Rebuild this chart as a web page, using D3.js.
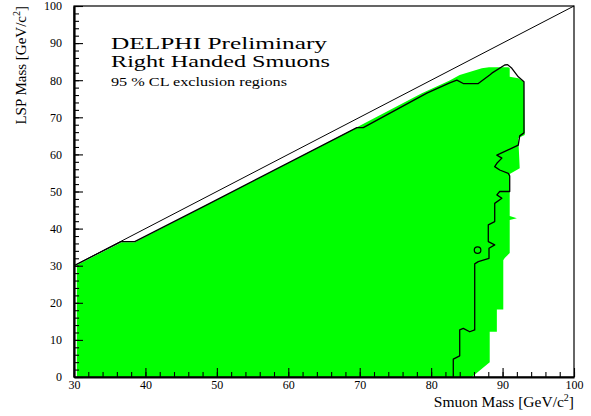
<!DOCTYPE html>
<meta charset="utf-8">
<style>
    body {
        margin: 0;
        background: #fff;
    }
    svg text {
        font-family: "Liberation Serif", "Times New Roman", Times, serif;
        fill: #000;
    }
</style>
<script src="https://d3js.org/d3.v7.min.js"></script>
<div id="chart"></div>
<script>

    // tick values
    var xMajor = [30, 40, 50, 60, 70, 80, 90, 100];
    var yMajor = [0, 10, 20, 30, 40, 50, 60, 70, 80, 90, 100];

    // kinematic limit  m(LSP) = m(smuon)
    var diagonal = [[30, 30], [100, 100]];

    // green area: excluded region (smuon mass, LSP mass)
    var excluded = [
        [30.4, 0], [30.4, 30.2], [36.7, 36.3], [38.5, 36.3], [49, 46.8], [69.6, 67.3],
        [78.7, 76.5], [82.6, 79.9], [84, 81.4], [87.1, 83.2], [88.1, 83.5], [90.8, 83.5],
        [91, 83.2], [91, 80.9], [92.2, 80.5], [93, 79.6], [93.1, 65.2], [92.2, 64.4],
        [92.4, 56.3], [91, 54.7], [91, 43.4], [92, 42.8], [91, 42.3], [91, 33.4],
        [90.3, 32.1], [90.1, 31.5], [90.1, 18.2], [89.2, 18.2], [89.2, 12.2], [88.2, 12.2],
        [88.2, 4], [85.7, 0]
    ];

    // black contour line
    var contour = [
        [30.2, 30.2], [36.6, 36.5], [38.5, 36.5], [49, 46.8], [69.6, 67.2], [70.5, 67.2],
        [79.4, 76.5], [82.6, 79.3], [83.6, 80.0], [84.5, 79.1], [86.6, 79.1], [88.2, 81.4],
        [88.5, 81.9], [90.3, 84.1], [90.7, 84.2], [91.3, 83.2], [92.2, 80.9], [93.0, 79.6],
        [93.0, 65.8], [92.4, 65.0], [92.2, 62.5], [89.2, 59.8], [89.9, 59.0], [89.2, 57.6],
        [88.9, 56.7], [89.6, 55.8], [90.8, 54.9], [91.0, 54.2], [91.0, 50.0], [89.6, 50.0],
        [89.2, 49.1], [89.9, 48.2], [88.9, 46.8], [88.9, 41.9], [88.0, 41.0], [88.0, 36.5],
        [88.9, 35.6], [88.1, 34.7], [88.1, 32.0], [86.6, 31.1], [86.1, 30.5], [86.1, 12.7],
        [85.4, 12.2], [84.5, 13.1], [84.0, 12.7], [84.0, 5.7], [83.1, 4.8], [83.1, 0]
    ];

    // small closed contour
    var island = [[86.5, 34.2]];

    var titleLines = ["DELPHI Preliminary", "Right Handed Smuons", "95 % CL exclusion regions"];

    var serif = "'Liberation Serif', 'Times New Roman', Times, serif";

    var margin = {top: 6, right: 17, bottom: 39, left: 74},
        width = 591 - margin.left - margin.right,
        height = 416 - margin.top - margin.bottom;

    var svg = d3.select("#chart")
        .append("svg")
        .attr("width", 591)
        .attr("height", 416)
        .append("g")
        .attr("transform", "translate(" + margin.left + "," + margin.top + ")");

    var x = d3.scaleLinear().domain([30, 100]).range([0, width]);
    var y = d3.scaleLinear().domain([0, 100]).range([height, 0]);

    var line = d3.line()
        .x(function(d) { return x(d[0]); })
        .y(function(d) { return y(d[1]); });

    svg.append("path")
        .datum(excluded)
        .attr("fill", "#00ff00")
        .attr("d", line.curve(d3.curveLinearClosed));

    line.curve(d3.curveLinear);

    // frame
    svg.append("rect")
        .attr("width", width)
        .attr("height", height)
        .attr("fill", "none")
        .attr("stroke", "#000")
        .attr("stroke-width", 1.2);

    // minor ticks every 2 GeV
    svg.append("g")
        .attr("class", "axis")
        .attr("transform", "translate(0," + height + ")")
        .call(d3.axisBottom(x).tickValues(d3.range(30, 101, 2)).tickSize(-5).tickFormat(""))
        .call(function(g) { g.select(".domain").remove(); });

    svg.append("g")
        .attr("class", "axis")
        .call(d3.axisLeft(y).tickValues(d3.range(0, 101, 2)).tickSize(-5).tickFormat(""))
        .call(function(g) { g.select(".domain").remove(); });

    var xAxis = svg.append("g")
        .attr("class", "axis")
        .attr("transform", "translate(0," + height + ")")
        .call(d3.axisBottom(x).tickValues(xMajor).tickSize(-9).tickSizeOuter(0).tickPadding(3));

    var yAxis = svg.append("g")
        .attr("class", "axis")
        .call(d3.axisLeft(y).tickValues(yMajor).tickSize(-9).tickSizeOuter(0).tickPadding(12));

    svg.selectAll(".axis")
        .attr("font-family", serif)
        .attr("font-size", 12);
    svg.selectAll(".axis text")
        .style("font-family", serif)
        .style("font-size", "12px");
    svg.selectAll(".axis line").attr("stroke-width", 1.1);
    svg.selectAll(".axis .domain").attr("stroke-width", 2.2);

    // diagonal
    svg.append("path")
        .datum(diagonal)
        .attr("fill", "none")
        .attr("stroke", "#000")
        .attr("stroke-width", 1)
        .attr("d", line);

    svg.append("path")
        .datum(contour)
        .attr("fill", "none")
        .attr("stroke", "#000")
        .attr("stroke-width", 1.3)
        .attr("stroke-linejoin", "round")
        .attr("d", line);

    svg.selectAll(".island")
        .data(island)
        .enter()
        .append("circle")
        .attr("cx", function(d) { return x(d[0]); })
        .attr("cy", function(d) { return y(d[1]); })
        .attr("r", 3.3)
        .attr("fill", "none")
        .attr("stroke", "#000")
        .attr("stroke-width", 1.2);

    // title block
    var titleSize = [17, 17, 13],
        titleBase = [43, 61, 80],
        titleLen = [216, 219, 176];

    svg.selectAll(".title")
        .data(titleLines)
        .enter()
        .append("text")
        .attr("x", 37)
        .attr("y", function(d, i) { return titleBase[i]; })
        .attr("textLength", function(d, i) { return titleLen[i]; })
        .attr("lengthAdjust", "spacingAndGlyphs")
        .style("font-family", serif)
        .style("font-size", function(d, i) { return titleSize[i] + "px"; })
        .text(function(d) { return d; });

    // axis titles
    var xt = svg.append("text")
        .attr("x", width)
        .attr("y", height + 30)
        .attr("text-anchor", "end")
        .style("font-family", serif)
        .style("font-size", "15.5px");
    xt.append("tspan").text("Smuon Mass [GeV/c");
    xt.append("tspan").attr("dy", -6).style("font-size", "10px").text("2");
    xt.append("tspan").attr("dy", 6).text("]");

    var yt = svg.append("text")
        .attr("transform", "translate(-48,0) rotate(-90)")
        .attr("text-anchor", "end")
        .style("font-family", serif)
        .style("font-size", "15px");
    yt.append("tspan").text("LSP Mass [GeV/c");
    yt.append("tspan").attr("dy", -6).style("font-size", "10px").text("2");
    yt.append("tspan").attr("dy", 6).text("]");

</script>
